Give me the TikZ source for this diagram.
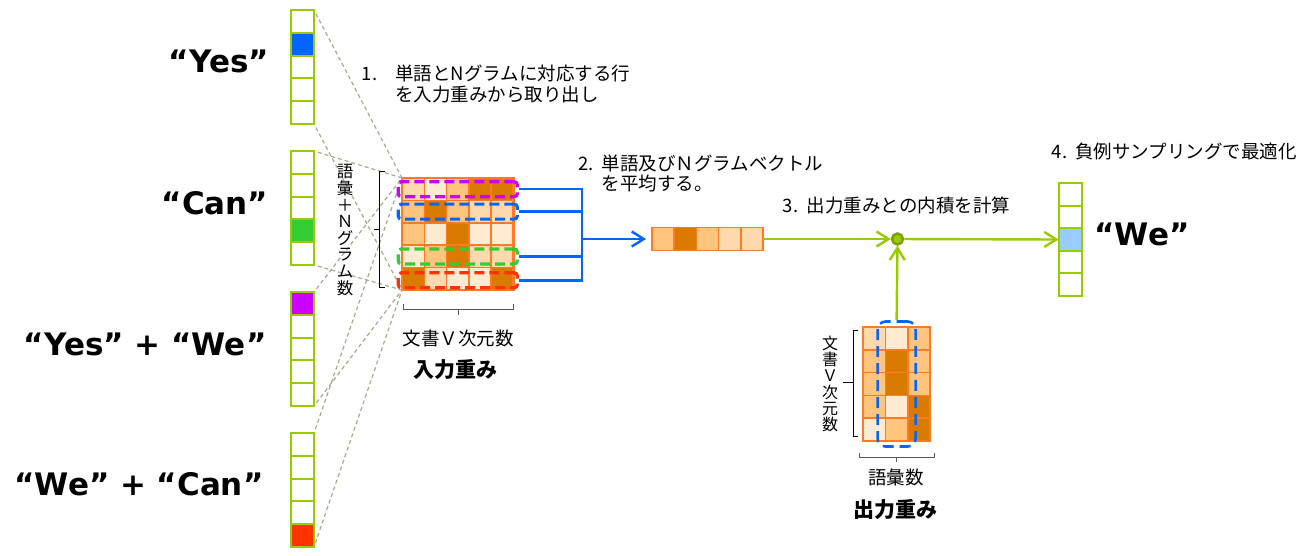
\documentclass[tikz,border=0pt]{standalone}
\usepackage{fontspec}
\setmainfont{DejaVu Sans}
\newfontfamily\jp{Noto Sans CJK JP}
\usetikzlibrary{arrows.meta}

\definecolor{vecgreen}{HTML}{99CC00}
\definecolor{dotolive}{HTML}{7FA000}
\definecolor{wborder}{HTML}{FF7A22}
\definecolor{wpale}{HTML}{FFEAD2}
\definecolor{wlight}{HTML}{FFD9AE}
\definecolor{wmid}{HTML}{FFC57F}
\definecolor{wdark}{HTML}{D87B00}
\definecolor{selpurple}{HTML}{CC00FF}
\definecolor{selblue}{HTML}{0066FF}
\definecolor{selgreen}{HTML}{33CC33}
\definecolor{selred}{HTML}{FF3300}
\definecolor{outblue}{HTML}{99CCFF}
\definecolor{guide}{HTML}{A9A990}

\tikzset{
  vcell/.style={draw=vecgreen,line width=2pt,minimum width=23pt,minimum height=22.8pt,inner sep=0pt,outer sep=0pt},
  wcell/.style={draw=wborder,line width=1.6pt,minimum width=22.3pt,minimum height=22.4pt,inner sep=0pt,outer sep=0pt},
  selbox/.style={draw=#1,line width=3.2pt,dash pattern=on 10pt off 5pt,rounded corners=3pt,minimum width=119pt,minimum height=15pt,inner sep=0pt},
  guideline/.style={draw=guide,line width=1.2pt,dash pattern=on 4pt off 3pt,shorten <=4pt},
  avgline/.style={draw=selblue,line width=2.4pt},
  scoreline/.style={draw=vecgreen,line width=2.4pt},
  barb/.style={-{Straight Barb[length=12pt,width=15pt]}},
  bracket/.style={draw=black,line width=0.9pt},
  word/.style={font=\bfseries\fontsize{31}{36}\selectfont,inner sep=0pt},
  note/.style={font=\jp\fontsize{18.5}{21}\selectfont,inner sep=0pt,align=left,anchor=west},
  axis/.style={font=\jp\fontsize{18.5}{21}\selectfont,inner sep=0pt},
  vaxis/.style={font=\jp\fontsize{16.5}{16.6}\selectfont,inner sep=0pt,align=center},
  wtitle/.style={font=\jp\bfseries\fontsize{21}{24}\selectfont,inner sep=0pt}
}

\begin{document}
\begin{tikzpicture}[x=1pt,y=-1pt]
  \useasboundingbox (0,0) rectangle (1311,555);
  \fill[white] (0,0) rectangle (1311,555);

  % one-hot input vectors
  \foreach \v/\top/\hot/\hc in {1/10/2/selblue,2/151/4/selgreen,3/292/1/selpurple,4/433/5/selred}{
    \foreach \i in {1,...,5}{
      \ifnum\i=\hot \def\cf{\hc}\else\def\cf{white}\fi
      \node[vcell,fill=\cf] (v\v-\i) at (302.5,{\top+11.4+22.8*(\i-1)}) {};
    }
  }
  \node[word] (w1) at (219,61.5) {“Yes”};
  \node[word] (w2) at (215,203) {“Can”};
  \node[word] (w3) at (145,344) {“Yes” + “We”};
  \node[word] (w4) at (139,484) {“We” + “Can”};

  % input weights
  \foreach \row [count=\r] in {{wlight,wpale,wmid,wdark,wdark},{wmid,wdark,wmid,wlight,wlight},{wmid,wpale,wdark,wpale,wpale},{wpale,wmid,wdark,wlight,wlight},{wdark,wlight,wpale,wpale,wdark}}{
    \foreach \col [count=\c] in \row {
      \node[wcell,fill=\col] (im-\r-\c) at ({413.15+22.3*(\c-1)},{189.2+22.4*(\r-1)}) {};
    }
  }
  \draw[wborder,line width=2.2pt] (im-1-1.north west) rectangle (im-5-5.south east);

  \foreach \v in {1,...,4}{
    \draw[guideline] (v\v-1.north east) -- (im-1-1.north west);
    \draw[guideline] (v\v-5.south east) -- (im-5-1.south west);
  }

  \node[selbox=selpurple] (sel1) at (im-1-3) {};
  \node[selbox=selblue] (sel2) at (im-2-3) {};
  \node[selbox=selgreen] (sel4) at (im-4-3) {};
  \node[selbox=selred] (sel5) at ([yshift=-1.5pt]im-5-3) {};

  \draw[bracket] (385,171) -- (379,171) -- (379,287) -- (385,287) (379,229) -- (374,229);
  \draw[bracket,draw=black!65] (403,304) -- (403,309.5) -- (513,309.5) -- (513,304) (458,309.5) -- (458,315);
  \node[vaxis] (rows) at (345,230) {語\\彙\\＋\\Ｎ\\グ\\ラ\\ム\\数};
  \node[axis] (dims) at (458,338) {文書Ｖ次元数};
  \node[wtitle] (inw) at (455.5,370) {入力重み};

  % averaged vector
  \foreach \col [count=\i] in {wmid,wdark,wmid,wlight,wlight}{
    \node[wcell,minimum width=22.2pt,minimum height=23pt,fill=\col] (mv-\i) at ({663.1+22.2*(\i-1)},239) {};
  }
  \coordinate (avg) at (582,239);
  \foreach \s in {1,2,4,5}{
    \draw[avgline] (sel\s.east) -| (avg);
  }
  \draw[avgline,barb,shorten >=6pt] (avg) -- (mv-1.west);

  % output weights
  \foreach \row [count=\r] in {{wlight,wpale,wmid},{wmid,wdark,wmid},{wmid,wdark,wmid},{wmid,wpale,wdark},{wpale,wmid,wdark}}{
    \foreach \col [count=\c] in \row {
      \node[wcell,minimum width=22.4pt,minimum height=22.8pt,fill=\col] (om-\r-\c) at ({874.2+22.4*(\c-1)},{338.4+22.8*(\r-1)}) {};
    }
  }
  \node[selbox=selblue,minimum width=38pt,minimum height=125pt,rounded corners=8pt,line width=2.6pt,dash pattern=on 11pt off 6pt] (osel) at (om-3-2) {};
  \draw[bracket] (858,330) -- (853,330) -- (853,436) -- (858,436) (853,382) -- (843,382);
  \draw[bracket,draw=black!65] (859,453) -- (859,457.5) -- (934,457.5) -- (934,453) (896.5,457.5) -- (896.5,462);
  \node[vaxis,font=\jp\fontsize{16}{16.3}\selectfont] (odims) at (830,384) {文\\書\\Ｖ\\次\\元\\数};
  \node[axis] (vocab) at (896,477) {語彙数};
  \node[wtitle] (outw) at (895,510) {出力重み};

  % output vector
  \foreach \i in {1,...,5}{
    \ifnum\i=3 \def\cf{outblue}\else\def\cf{white}\fi
    \node[vcell,fill=\cf] (ov-\i) at (1070,{194.3+22.6*(\i-1)}) {};
  }
  \node[word] (wout) at (1142,234) {“We”};

  % inner product
  \node[circle,fill=vecgreen,draw=dotolive,line width=2.5pt,minimum size=11pt,inner sep=0pt] (dot) at (897.5,239) {};
  \draw[scoreline,barb] (mv-5.east) -- (dot);
  \draw[scoreline,barb] (osel.north) -- (dot);
  \draw[scoreline,barb] (dot) -- (ov-3.west);

  % steps
  \node[note] (step1) at (361.7,83.7) {\makebox[33.5pt][l]{1.}単語とNグラムに対応する行\\\hspace*{33.5pt}を入力重みから取り出し};
  \node[note,font=\jp\fontsize{18.5}{20}\selectfont] (step2) at (578,173.3) {\makebox[23.5pt][l]{2.}単語及びＮグラムベクトル\\\hspace*{23.5pt}を平均する。};
  \node[note] (step3) at (782.7,205) {\makebox[24pt][l]{3.}出力重みとの内積を計算};
  \node[note] (step4) at (1051.7,151.7) {\makebox[23.3pt][l]{4.}負例サンプリングで最適化};
\end{tikzpicture}
\end{document}
